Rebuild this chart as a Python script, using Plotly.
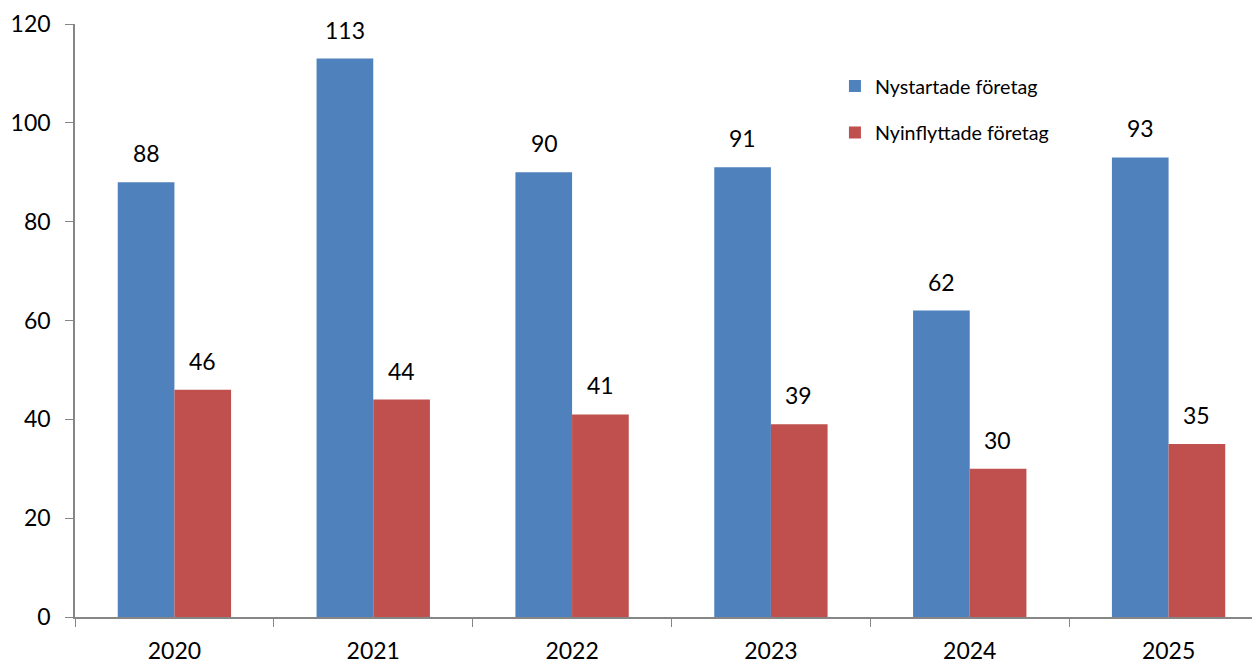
import plotly.graph_objects as go

years = ["2020", "2021", "2022", "2023", "2024", "2025"]
nystartade = [88, 113, 90, 91, 62, 93]
nyinflyttade = [46, 44, 41, 39, 30, 35]
y_ticks = [0, 20, 40, 60, 80, 100, 120]

FONT = "Lato, 'Open Sans', sans-serif"
BLUE = "#4F81BD"
RED = "#C0504D"

fig = go.Figure()
fig.add_trace(go.Bar(x=years, y=nystartade, name="Nystartade företag",
                     marker=dict(color=BLUE, line=dict(width=0)),
                     width=0.285, offset=-0.285, legendgroup="a"))
fig.add_trace(go.Bar(x=years, y=nyinflyttade, name="Nyinflyttade företag",
                     marker=dict(color=RED, line=dict(width=0)),
                     width=0.285, offset=0.0, legendgroup="b"))

for i, v in enumerate(nystartade):
    fig.add_annotation(x=i, y=v, text=str(v), showarrow=False, xshift=-28,
                       yanchor="bottom", yshift=13, font=dict(size=23, color="#000", family=FONT))
for i, v in enumerate(nyinflyttade):
    fig.add_annotation(x=i, y=v, text=str(v), showarrow=False, xshift=28,
                       yanchor="bottom", yshift=13, font=dict(size=23, color="#000", family=FONT))

fig.update_layout(
    width=1260, height=660,
    margin=dict(l=67, r=0, t=16, b=51, autoexpand=False),
    plot_bgcolor="white", paper_bgcolor="white",
    font=dict(family=FONT, color="#000"),
    barmode="overlay",
    showlegend=True,
    legend=dict(x=0.637, y=0.928, xanchor="left", yanchor="top",
                font=dict(size=19.7, family=FONT, color="#000"),
                traceorder="grouped", tracegroupgap=18,
                bgcolor="rgba(0,0,0,0)"),
    xaxis=dict(type="category", range=[-0.5, 5.5], tickson="boundaries", ticks="outside", ticklen=8,
               tickcolor="#868686", showline=True, linecolor="#868686", linewidth=1.5,
               showgrid=False, tickangle=0, automargin=False, ticklabelstandoff=13,
               tickfont=dict(size=23, family=FONT, color="#000")),
    yaxis=dict(range=[0, 120], tickvals=y_ticks, ticks="outside", ticklen=8,
               tickcolor="#868686", showline=True, linecolor="#868686", linewidth=1.5,
               showgrid=False, zeroline=False, automargin=False, ticklabelstandoff=10,
               tickfont=dict(size=23, family=FONT, color="#000")),
)

fig.write_html("out.html")
